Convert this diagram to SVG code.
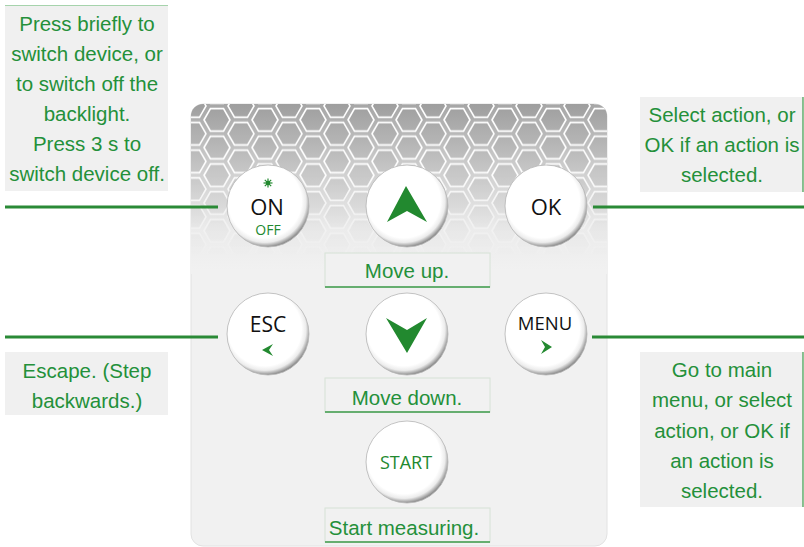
<svg xmlns="http://www.w3.org/2000/svg" width="804" height="547" viewBox="0 0 804 547">
<style>
.desc{font-family:"Liberation Sans",Arial,sans-serif;font-size:20.5px;fill:#24903a;text-anchor:middle}
.btn{font-family:"Open Sans","Noto Sans",sans-serif;text-anchor:middle}
.box{fill:#f0f0f0}
.conn{stroke:#2a8a36;stroke-width:3;fill:none}
.lbl{fill:#f1f1f1;stroke:#d6e2d6;stroke-width:1}
.lblb{stroke:#3d9a4a;stroke-width:1.5}
.ico{fill:#22892f}
</style>
<defs>
<linearGradient id="bg" x1="0" y1="104" x2="0" y2="270" gradientUnits="userSpaceOnUse">
<stop offset="0" stop-color="#a6a6a6"/>
<stop offset="0.4" stop-color="#cfcfcf"/>
<stop offset="0.75" stop-color="#ebebeb"/>
<stop offset="1" stop-color="#f1f1f1"/>
</linearGradient>
<pattern id="hex" patternUnits="userSpaceOnUse" x="201" y="106" width="48" height="27.71">
<g fill="#000" fill-opacity="0.045" stroke="#ffffff" stroke-width="1.6">
<polygon points="3,13.86 9.5,2.6 22.5,2.6 29,13.86 22.5,25.1 9.5,25.1"/>
<polygon points="3,-13.86 9.5,-25.1 22.5,-25.1 29,-13.86 22.5,-2.6 9.5,-2.6"/>
<polygon points="3,41.57 9.5,30.3 22.5,30.3 29,41.57 22.5,52.8 9.5,52.8"/>
<polygon points="27,0 33.5,-11.26 46.5,-11.26 53,0 46.5,11.26 33.5,11.26"/>
<polygon points="27,27.71 33.5,16.45 46.5,16.45 53,27.71 46.5,38.97 33.5,38.97"/>
<polygon points="-21,0 -14.5,-11.26 -1.5,-11.26 5,0 -1.5,11.26 -14.5,11.26"/>
<polygon points="-21,27.71 -14.5,16.45 -1.5,16.45 5,27.71 -1.5,38.97 -14.5,38.97"/>
</g>
</pattern>
<linearGradient id="fade" x1="0" y1="104" x2="0" y2="258" gradientUnits="userSpaceOnUse">
<stop offset="0" stop-color="#fff"/>
<stop offset="0.45" stop-color="#fff"/>
<stop offset="1" stop-color="#000"/>
</linearGradient>
<mask id="fm" maskUnits="userSpaceOnUse" x="0" y="0" width="804" height="547">
<rect x="191" y="104" width="416" height="160" fill="url(#fade)"/>
</mask>
<radialGradient id="bt" cx="0.46" cy="0.44" r="0.56">
<stop offset="0" stop-color="#ffffff"/>
<stop offset="0.8" stop-color="#ffffff"/>
<stop offset="0.9" stop-color="#ececec"/>
<stop offset="1" stop-color="#8e8e8e"/>
</radialGradient>
<clipPath id="pc"><rect x="191" y="104" width="416" height="442" rx="12"/></clipPath>
</defs>

<g id="panel">
<rect x="191" y="104" width="416" height="442" rx="12" fill="#f1f1f1" stroke="#e2e2e2" stroke-width="1"/>
<g clip-path="url(#pc)">
<rect x="191" y="104" width="416" height="170" fill="url(#bg)"/>
<rect x="191" y="104" width="416" height="160" fill="url(#hex)" mask="url(#fm)"/>
</g>
</g>

<g id="connectors">
<line class="conn" x1="5" y1="207" x2="218" y2="207"/>
<line class="conn" x1="5" y1="337" x2="218" y2="337"/>
<line class="conn" x1="593" y1="207" x2="804" y2="207"/>
<line class="conn" x1="592" y1="337" x2="804" y2="337"/>
</g>

<g id="note-on">
<rect class="box" x="5" y="5" width="163" height="186"/>
<line x1="5" y1="5.5" x2="168" y2="5.5" stroke="#a6d3ac" stroke-width="1"/>
<text class="desc" x="87" y="31">Press briefly to</text>
<text class="desc" x="87" y="61">switch device, or</text>
<text class="desc" x="87" y="91">to switch off the</text>
<text class="desc" x="87" y="121">backlight.</text>
<text class="desc" x="87" y="151">Press 3 s to</text>
<text class="desc" x="87" y="181">switch device off.</text>
</g>

<g id="note-esc">
<rect class="box" x="5" y="352" width="163" height="63"/>
<text class="desc" x="87" y="378">Escape. (Step</text>
<text class="desc" x="87" y="408">backwards.)</text>
</g>

<g id="note-ok">
<rect class="box" x="640" y="97" width="163" height="95"/>
<line x1="803" y1="97" x2="803" y2="192" stroke="#3d9a4a" stroke-width="1.2"/>
<text class="desc" x="722" y="122">Select action, or</text>
<text class="desc" x="722" y="152">OK if an action is</text>
<text class="desc" x="722" y="182">selected.</text>
</g>

<g id="note-menu">
<rect class="box" x="640" y="352" width="163" height="155"/>
<line x1="803" y1="352" x2="803" y2="507" stroke="#3d9a4a" stroke-width="1.2"/>
<text class="desc" x="722" y="377">Go to main</text>
<text class="desc" x="722" y="407">menu, or select</text>
<text class="desc" x="722" y="438">action, or OK if</text>
<text class="desc" x="722" y="468">an action is</text>
<text class="desc" x="722" y="498">selected.</text>
</g>

<g id="btn-on">
<circle cx="268" cy="206" r="41" fill="url(#bt)" stroke="#b5b5b5" stroke-width="0.8"/>
<g stroke="#22892f" stroke-width="1.2">
<line x1="268" y1="178.5" x2="268" y2="187.5"/>
<line x1="263.5" y1="183" x2="272.5" y2="183"/>
<line x1="264.8" y1="179.8" x2="271.2" y2="186.2"/>
<line x1="264.8" y1="186.2" x2="271.2" y2="179.8"/>
</g>
<circle cx="268" cy="183" r="2.2" class="ico"/>
<text class="btn" x="267" y="215" font-size="22" fill="#111">ON</text>
<text class="btn" x="268" y="235" font-size="14" fill="#22892f">OFF</text>
</g>

<g id="btn-up">
<circle cx="407" cy="206" r="41" fill="url(#bt)" stroke="#b5b5b5" stroke-width="0.8"/>
<path class="ico" d="M406,186 L427,222 L407,211 L387,222 Z"/>
</g>

<g id="btn-ok">
<circle cx="546" cy="206" r="41" fill="url(#bt)" stroke="#b5b5b5" stroke-width="0.8"/>
<text class="btn" x="546" y="215" font-size="22" fill="#111">OK</text>
</g>

<g id="label-up">
<rect class="lbl" x="325" y="253" width="165" height="34"/>
<line class="lblb" x1="325" y1="287" x2="490" y2="287"/>
<text class="desc" x="407" y="278">Move up.</text>
</g>

<g id="btn-esc">
<circle cx="268" cy="334" r="41" fill="url(#bt)" stroke="#b5b5b5" stroke-width="0.8"/>
<text class="btn" x="268" y="332" font-size="21" fill="#111">ESC</text>
<path class="ico" d="M262,350 L273,344 L269,350 L273,356 Z"/>
</g>

<g id="btn-down">
<circle cx="407" cy="334" r="41" fill="url(#bt)" stroke="#b5b5b5" stroke-width="0.8"/>
<path class="ico" d="M386,318 L407,330 L427,318 L407,353 Z"/>
</g>

<g id="btn-menu">
<circle cx="546" cy="334" r="41" fill="url(#bt)" stroke="#b5b5b5" stroke-width="0.8"/>
<text class="btn" x="545" y="330" font-size="18.5" fill="#111">MENU</text>
<path class="ico" d="M552,347 L541,340 L545,347 L541,354 Z"/>
</g>

<g id="label-down">
<rect class="lbl" x="325" y="378" width="165" height="34"/>
<line class="lblb" x1="325" y1="412" x2="490" y2="412"/>
<text class="desc" x="407" y="405">Move down.</text>
</g>

<g id="btn-start">
<circle cx="407" cy="462" r="41" fill="url(#bt)" stroke="#b5b5b5" stroke-width="0.8"/>
<text class="btn" x="406" y="469" font-size="18" fill="#22892f">START</text>
</g>

<g id="label-start">
<rect class="lbl" x="325" y="508" width="165" height="34"/>
<line class="lblb" x1="325" y1="542" x2="490" y2="542"/>
<text class="desc" x="404" y="535">Start measuring.</text>
</g>
</svg>
